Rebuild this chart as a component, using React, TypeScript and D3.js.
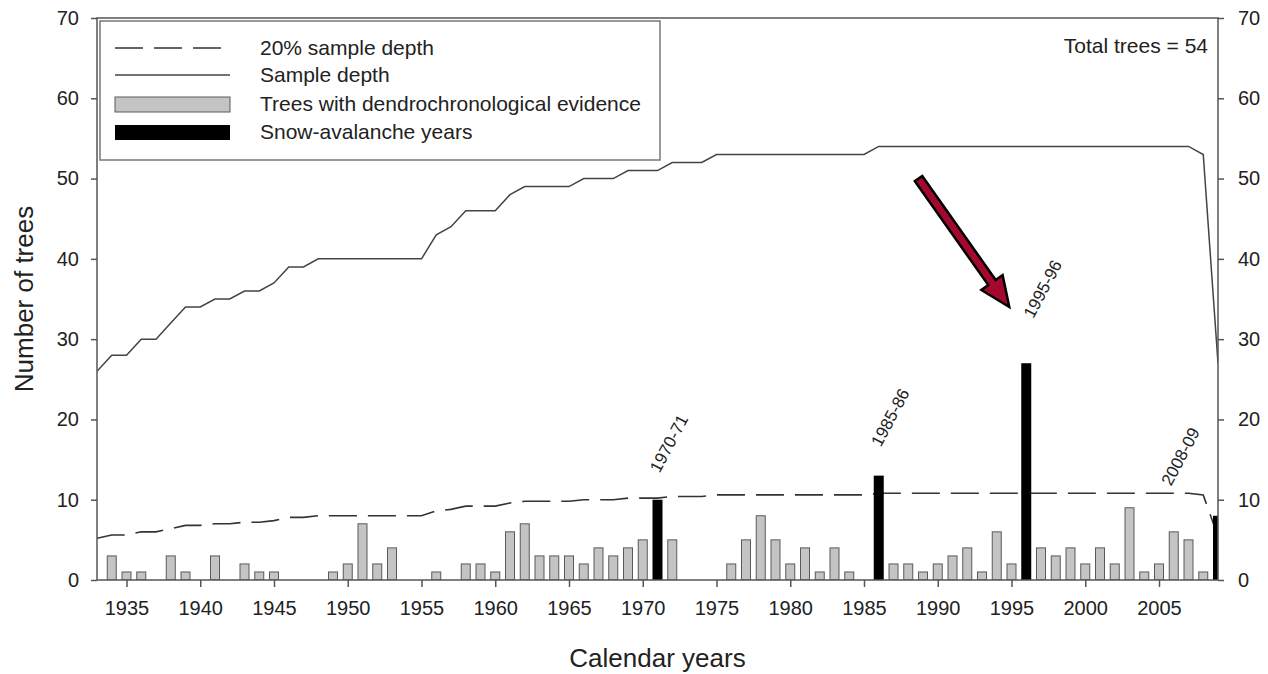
import * as d3 from "d3";
import { useEffect, useRef } from "react";

// years 1933-2009
const firstYear = 1933;
const lastYear = 2009;

// trees with dendrochronological evidence (gray bars), one value per year
const evidence = [
  0, 3, 1, 1, 0, 3, 1, 0, 3, 0,
  2, 1, 1, 0, 0, 0, 1, 2, 7, 2,
  4, 0, 0, 1, 0, 2, 2, 1, 6, 7,
  3, 3, 3, 2, 4, 3, 4, 5, 0, 5,
  0, 0, 0, 2, 5, 8, 5, 2, 4, 1,
  4, 1, 0, 0, 2, 2, 1, 2, 3, 4,
  1, 6, 2, 0, 4, 3, 4, 2, 4, 2,
  9, 1, 2, 6, 5, 1, 0,
];

// snow-avalanche years (black bars)
const avalancheYears = [1971, 1986, 1996, 2009];
const avalancheValues = [10, 13, 27, 8];
const avalancheLabels = ["1970-71", "1985-86", "1995-96", "2008-09"];

// sample depth (solid line)
const sampleDepth = [
  26, 28, 28, 30, 30, 32, 34, 34, 35, 35,
  36, 36, 37, 39, 39, 40, 40, 40, 40, 40,
  40, 40, 40, 43, 44, 46, 46, 46, 48, 49,
  49, 49, 49, 50, 50, 50, 51, 51, 51, 52,
  52, 52, 53, 53, 53, 53, 53, 53, 53, 53,
  53, 53, 53, 54, 54, 54, 54, 54, 54, 54,
  54, 54, 54, 54, 54, 54, 54, 54, 54, 54,
  54, 54, 54, 54, 54, 53, 27,
];

// 20% sample depth (dashed line)
const sampleDepth20 = [
  5.2, 5.6, 5.6, 6, 6, 6.4, 6.8, 6.8, 7, 7,
  7.2, 7.2, 7.4, 7.8, 7.8, 8, 8, 8, 8, 8,
  8, 8, 8, 8.6, 8.8, 9.2, 9.2, 9.2, 9.6, 9.8,
  9.8, 9.8, 9.8, 10, 10, 10, 10.2, 10.2, 10.2, 10.4,
  10.4, 10.4, 10.6, 10.6, 10.6, 10.6, 10.6, 10.6, 10.6, 10.6,
  10.6, 10.6, 10.6, 10.8, 10.8, 10.8, 10.8, 10.8, 10.8, 10.8,
  10.8, 10.8, 10.8, 10.8, 10.8, 10.8, 10.8, 10.8, 10.8, 10.8,
  10.8, 10.8, 10.8, 10.8, 10.8, 10.6, 5.4,
];

const xTicks = [1935, 1940, 1945, 1950, 1955, 1960, 1965, 1970, 1975, 1980, 1985, 1990, 1995, 2000, 2005];
const yTicks = [0, 10, 20, 30, 40, 50, 60, 70];

const legendLabels = [
  "20% sample depth",
  "Sample depth",
  "Trees with dendrochronological evidence",
  "Snow-avalanche years",
];

// arrow pointing at the 1995-96 label, in data units [year, trees]
const arrowFrom = [1988.7, 50];
const arrowTo = [1994.85, 34];

export default function App() {
  const ref = useRef<SVGSVGElement>(null);

  useEffect(() => {
    const svg = d3.select(ref.current);
    svg.selectAll("*").remove();

    const width = 1268;
    const height = 674;
    const margin = { top: 18, right: 50, bottom: 94, left: 97 };
    const font = "'Liberation Sans', Arial, sans-serif";
    const axisColor = "#555";

    svg.attr("width", width).attr("height", height);

    const years = d3.range(firstYear, lastYear + 1);

    const x = d3.scaleLinear()
      .domain([firstYear, lastYear])
      .range([margin.left, width - margin.right]);

    const y = d3.scaleLinear()
      .domain([0, 70])
      .range([height - margin.bottom, margin.top]);

    svg.append("defs").append("clipPath").attr("id", "plot-clip")
      .append("rect")
      .attr("x", margin.left)
      .attr("y", margin.top)
      .attr("width", width - margin.right - margin.left)
      .attr("height", height - margin.bottom - margin.top);

    const plot = svg.append("g").attr("clip-path", "url(#plot-clip)");

    // gray bars
    const barW = 9;
    plot.append("g")
      .selectAll("rect")
      .data(years.map((yr, i) => ({ yr, v: evidence[i] })).filter(d => d.v > 0))
      .join("rect")
      .attr("x", d => x(d.yr) - barW / 2)
      .attr("y", d => y(d.v))
      .attr("width", barW)
      .attr("height", d => y(0) - y(d.v))
      .attr("fill", "#c4c4c4")
      .attr("stroke", "#5a5a5a")
      .attr("stroke-width", 1);

    // sample depth lines
    const line = d3.line<number>()
      .x((d, i) => x(years[i]))
      .y(d => y(d));

    plot.append("path")
      .attr("d", line(sampleDepth20))
      .attr("fill", "none")
      .attr("stroke", "#333")
      .attr("stroke-width", 1.6)
      .attr("stroke-dasharray", "28,11");

    plot.append("path")
      .attr("d", line(sampleDepth))
      .attr("fill", "none")
      .attr("stroke", "#444")
      .attr("stroke-width", 1.5);

    // black avalanche bars
    const blackW = 10;
    plot.append("g")
      .selectAll("rect")
      .data(avalancheYears.map((yr, i) => ({ yr, v: avalancheValues[i] })))
      .join("rect")
      .attr("x", d => x(d.yr) - blackW / 2)
      .attr("y", d => y(d.v))
      .attr("width", blackW)
      .attr("height", d => y(0) - y(d.v))
      .attr("fill", "#000");

    // frame
    svg.append("rect")
      .attr("x", margin.left)
      .attr("y", margin.top)
      .attr("width", width - margin.right - margin.left)
      .attr("height", height - margin.bottom - margin.top)
      .attr("fill", "none")
      .attr("stroke", axisColor)
      .attr("stroke-width", 1.5);

    // axes
    const styleAxis = (g: any) => {
      g.select(".domain").remove();
      g.selectAll(".tick line").attr("stroke", axisColor).attr("stroke-width", 1.5);
      g.selectAll(".tick text")
        .attr("fill", "#222")
        .style("font-family", font)
        .style("font-size", "20px");
    };

    svg.append("g")
      .attr("transform", `translate(0,${height - margin.bottom})`)
      .call(d3.axisBottom(x).tickValues(xTicks).tickFormat(d3.format("d")).tickSize(7).tickPadding(14))
      .call(styleAxis);

    svg.append("g")
      .attr("transform", `translate(${margin.left},0)`)
      .call(d3.axisLeft(y).tickValues(yTicks).tickSize(6).tickPadding(12))
      .call(styleAxis);

    svg.append("g")
      .attr("transform", `translate(${width - margin.right},0)`)
      .call(d3.axisRight(y).tickValues(yTicks).tickSize(6).tickPadding(14))
      .call(styleAxis);

    // axis titles
    svg.append("text")
      .attr("x", (margin.left + width - margin.right) / 2)
      .attr("y", 667)
      .attr("text-anchor", "middle")
      .style("font-family", font)
      .style("font-size", "26px")
      .attr("fill", "#222")
      .text("Calendar years");

    svg.append("text")
      .attr("transform", `translate(33,${(margin.top + height - margin.bottom) / 2}) rotate(-90)`)
      .attr("text-anchor", "middle")
      .style("font-family", font)
      .style("font-size", "26px")
      .attr("fill", "#222")
      .text("Number of trees");

    svg.append("text")
      .attr("x", width - margin.right - 10)
      .attr("y", 53)
      .attr("text-anchor", "end")
      .style("font-family", font)
      .style("font-size", "21px")
      .attr("fill", "#222")
      .text("Total trees = 54");

    // avalanche labels
    const labelOffsets = [[2, -26], [2, -28], [7, -44], [-47, -29]];
    svg.append("g")
      .selectAll("text")
      .data(avalancheLabels)
      .join("text")
      .attr("transform", (d, i) =>
        `translate(${x(avalancheYears[i]) + labelOffsets[i][0]},${y(avalancheValues[i]) + labelOffsets[i][1]}) rotate(-62)`)
      .style("font-family", font)
      .style("font-size", "17px")
      .attr("fill", "#222")
      .text(d => d);

    // arrow
    const ax0 = x(arrowFrom[0]), ay0 = y(arrowFrom[1]);
    const ax1 = x(arrowTo[0]), ay1 = y(arrowTo[1]);
    const len = Math.hypot(ax1 - ax0, ay1 - ay0);
    const ux = (ax1 - ax0) / len, uy = (ay1 - ay0) / len;
    const nx = -uy, ny = ux;
    const headLen = 30, shaftHalf = 4.5, headHalf = 13;
    const bx = ax1 - ux * headLen, by = ay1 - uy * headLen;
    const pts = [
      [ax0 + nx * shaftHalf, ay0 + ny * shaftHalf],
      [bx + nx * shaftHalf, by + ny * shaftHalf],
      [bx + nx * headHalf, by + ny * headHalf],
      [ax1, ay1],
      [bx - nx * headHalf, by - ny * headHalf],
      [bx - nx * shaftHalf, by - ny * shaftHalf],
      [ax0 - nx * shaftHalf, ay0 - ny * shaftHalf],
    ];
    svg.append("polygon")
      .attr("points", pts.map(p => p.join(",")).join(" "))
      .attr("fill", "#a3082f")
      .attr("stroke", "#000")
      .attr("stroke-width", 2.5)
      .attr("stroke-linejoin", "miter");

    // legend
    const legend = svg.append("g");
    legend.append("rect")
      .attr("x", 100)
      .attr("y", 21)
      .attr("width", 560)
      .attr("height", 139)
      .attr("fill", "#fff")
      .attr("stroke", "#777")
      .attr("stroke-width", 1.5);

    const rowY = [48, 75, 104, 132];
    legend.append("line")
      .attr("x1", 115).attr("x2", 222).attr("y1", rowY[0]).attr("y2", rowY[0])
      .attr("stroke", "#333").attr("stroke-width", 1.6).attr("stroke-dasharray", "28,11");
    legend.append("line")
      .attr("x1", 115).attr("x2", 230).attr("y1", rowY[1]).attr("y2", rowY[1])
      .attr("stroke", "#444").attr("stroke-width", 1.5);
    legend.append("rect")
      .attr("x", 115).attr("y", rowY[2] - 7).attr("width", 115).attr("height", 15)
      .attr("fill", "#c4c4c4").attr("stroke", "#5a5a5a");
    legend.append("rect")
      .attr("x", 115).attr("y", rowY[3] - 7).attr("width", 115).attr("height", 15)
      .attr("fill", "#000");

    legend.selectAll("text.lbl")
      .data(legendLabels)
      .join("text")
      .attr("class", "lbl")
      .attr("x", 260)
      .attr("y", (d, i) => rowY[i])
      .attr("dy", "0.35em")
      .style("font-family", font)
      .style("font-size", "21px")
      .attr("fill", "#222")
      .text(d => d);
  }, []);

  return <svg ref={ref} style={{ position: "absolute", left: 0, top: 0 }}></svg>;
}
